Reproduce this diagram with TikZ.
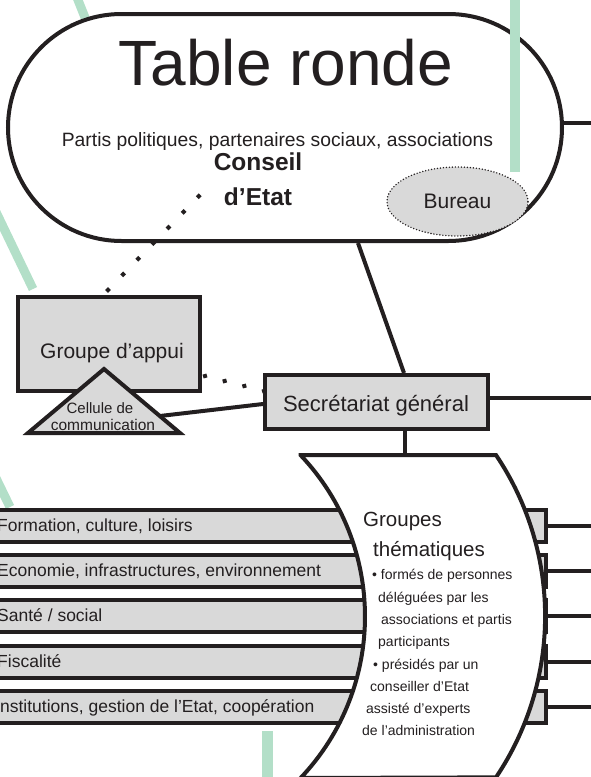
\documentclass[tikz,border=0pt]{standalone}
\usepackage{fontspec}
\setmainfont{Liberation Sans}
\usetikzlibrary{calc,shapes.geometric}
\definecolor{ink}{HTML}{231F20}
\definecolor{boxgray}{HTML}{D9D9D9}
\definecolor{mint}{HTML}{B3DFC8}
\pgfdeclarelayer{back}
\pgfdeclarelayer{links}
\pgfsetlayers{back,links,main}
\tikzset{
  heavy/.style={draw=ink, line width=4pt},
  graybox/.style={heavy, fill=boxgray, inner sep=0pt},
  greenline/.style={draw=mint, line width=9pt},
  txt/.style={text=ink, inner sep=0pt},
  fs/.style={font=\fontsize{#1}{#1}\selectfont},
  fsb/.style={font=\fontsize{#1}{#1}\selectfont\bfseries},
  bigdot/.style={diamond, fill=ink, inner sep=0pt, minimum size=6pt},
  smalldot/.style={rectangle, fill=ink, inner sep=0pt, minimum size=4pt, rotate=15},
  barbox/.style={graybox, minimum width=580pt, minimum height=32pt},
  bartext/.style={txt, fs=17.5, anchor=base west},
  gtext/.style={txt, fs=20.5, anchor=base west},
  btext/.style={txt, fs=14, anchor=base west},
}
\begin{document}
\begin{tikzpicture}[x=1pt,y=-1pt]
\useasboundingbox (0,0) rectangle (590,777);

\begin{pgfonlayer}{back}
  \draw[greenline] (76,-5) -- (88,25);
  \draw[greenline] (-4,212) -- (33,289);
  \draw[greenline] (-8,470) -- (10,507);
  \fill[mint] (262,731) rectangle (273,780);
  \node[heavy, fill=white, minimum width=554pt, minimum height=227pt,
        rounded corners=113.5pt, inner sep=0pt] (table) at (285,127.5) {};
  \fill[mint] (510,-2) rectangle (520,172);
  \node[ellipse, fill=boxgray, draw=ink, line width=1.6pt, dash pattern=on 0pt off 3pt,
        line cap=round, minimum width=141pt, minimum height=69pt, inner sep=0pt]
        (bureau) at (457.5,201.5) {};
  \node[txt, fs=21] (bureautext) at (bureau.center) {Bureau};
  \node[txt, fs=64, anchor=base] (titre) at (286,85) {Table ronde};
  \node[txt, fs=19.3, anchor=base] (partis) at (277.5,146) {Partis politiques, partenaires sociaux, associations};
  \node[txt, fsb=24.5, anchor=base] (conseilA) at (258,170) {Conseil};
  \node[txt, fsb=24.5, anchor=base] (conseilB) at (258,205) {d’Etat};
\end{pgfonlayer}

% main boxes
\node[graybox, minimum width=182pt, minimum height=94pt] (appui) at (109,344) {};
\node[txt, fs=21, anchor=base] (appuitext) at (112,358) {Groupe d’appui};
\draw[graybox] (28,433) -- (180,433) -- (104,369) -- cycle;
\coordinate (cellR) at (160,416);
\node[txt, fs=15, anchor=base] (cellA) at (100,413) {Cellule de};
\node[txt, fs=15.5, anchor=base] (cellB) at (103,430) {communication};

\node[graybox, minimum width=223pt, minimum height=54pt] (sec) at (376.5,402) {};
\node[txt, fs=22, anchor=base] (sectext) at (376,411) {Secrétariat général};

% thematic bars
\node[barbox] (bar1) at (256,526) {};
\node[barbox] (bar2) at (256,571) {};
\node[barbox] (bar3) at (256,616) {};
\node[barbox] (bar4) at (256,662) {};
\node[barbox] (bar5) at (256,707) {};
\foreach \b in {bar1,bar2,bar3,bar4,bar5} \draw[heavy] (\b.east) -- ++(50,0);
\node[bartext] (bt1) at (-3,531) {Formation, culture, loisirs};
\node[bartext] (bt2) at (-3,576) {Economie, infrastructures, environnement};
\node[bartext] (bt3) at (-3,621) {Santé / social};
\node[bartext] (bt4) at (-3,667) {Fiscalité};
\node[bartext] (bt5) at (-5,712) {Institutions, gestion de l’Etat, coopération};

% groupes thematiques shape
\draw[heavy, fill=white] (300.6,455) -- (496,455)
  arc[start angle=-33.9, end angle=33.9, radius=289] -- (300.6,778)
  arc[start angle=43.5, end angle=-43.5, radius=234.5] -- cycle;
\coordinate (gtop) at (405,455);
\node[gtext] (g1) at (363,526) {Groupes};
\node[gtext] (g2) at (373,556) {thématiques};
\node[btext] (g3) at (372,579) {• formés de personnes};
\node[btext] (g4) at (378,602) {déléguées par les};
\node[btext] (g5) at (381,624) {associations et partis};
\node[btext] (g6) at (378,646) {participants};
\node[btext] (g7) at (373,669) {• présidés par un};
\node[btext] (g8) at (370,691) {conseiller d’Etat};
\node[btext] (g9) at (366,713) {assisté d’experts};
\node[btext] (g10) at (362,735) {de l’administration};

\begin{pgfonlayer}{links}
  \draw[heavy] ([xshift=73pt]table.south) -- ([xshift=27.5pt]sec.north);
  \draw[heavy] ([yshift=4.5pt]table.east) -- ++(40,0);
  \draw[heavy] ([yshift=4pt]sec.east) -- ++(110,0);
  \draw[heavy] ([xshift=28.5pt]sec.south) -- (gtop);
  \draw[heavy] (cellR) -- ([yshift=-2pt]sec.west);
  \coordinate (dA) at ($(conseilB.west)+(-25,0)$);
  \coordinate (dB) at ([shift={(-1pt,5pt)}]appui.north);
  \foreach \k in {0,...,6} \node[bigdot] at ($(dA)!\k/6!(dB)$) {};
  \coordinate (eA) at ($(appui.east)+(3,32)$);
  \coordinate (eB) at ($(sec.west)+(1,-11)$);
  \foreach \k in {0,...,3} \node[smalldot] at ($(eA)!\k/3!(eB)$) {};
\end{pgfonlayer}
\end{tikzpicture}
\end{document}
